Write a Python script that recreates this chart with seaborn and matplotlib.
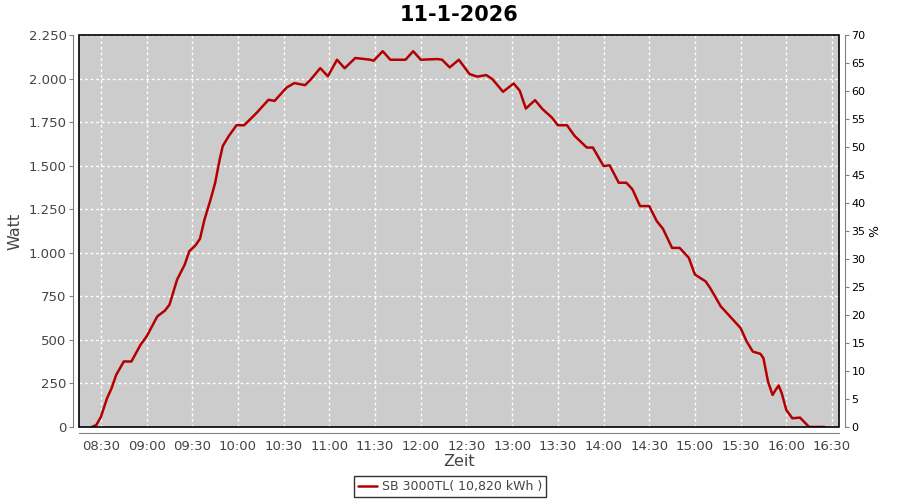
import pandas as pd
import matplotlib
matplotlib.use('Agg')
import matplotlib.pyplot as plt
import matplotlib.dates as mdates
from matplotlib.ticker import FuncFormatter
from matplotlib.patches import Rectangle
import seaborn as sns

# Werte (Uhrzeit, Leistung in Watt)
zeiten = ['08:24', '08:27', '08:30', '08:34', '08:37', '08:40', '08:45', '08:50',
          '08:56', '09:00', '09:07', '09:12', '09:15', '09:20', '09:25', '09:28',
          '09:32', '09:35', '09:38', '09:42', '09:45', '09:48', '09:50', '09:54',
          '09:59', '10:04', '10:12', '10:20', '10:24', '10:32', '10:37', '10:44',
          '10:48', '10:54', '10:59', '11:05', '11:10', '11:17', '11:27', '11:29',
          '11:35', '11:40', '11:50', '11:55', '12:00', '12:11', '12:14', '12:19',
          '12:25', '12:32', '12:37', '12:43', '12:47', '12:54', '13:01', '13:05',
          '13:09', '13:15', '13:20', '13:26', '13:30', '13:36', '13:41', '13:49',
          '13:53', '14:00', '14:04', '14:10', '14:15', '14:19', '14:24', '14:30',
          '14:35', '14:39', '14:45', '14:50', '14:56', '15:00', '15:07', '15:10',
          '15:17', '15:21', '15:30', '15:34', '15:38', '15:43', '15:45', '15:48',
          '15:51', '15:53', '15:55', '15:57', '16:00', '16:04', '16:09', '16:11',
          '16:15', '16:25']
watt = [0, 12, 59, 165, 223, 299, 376, 376,
        472, 520, 635, 668, 702, 846, 932, 1009,
        1042, 1080, 1191, 1306, 1402, 1537, 1613, 1671,
        1732, 1732, 1801, 1878, 1872, 1949, 1974, 1962,
        1997, 2060, 2013, 2108, 2059, 2118, 2108, 2102,
        2157, 2108, 2108, 2157, 2108, 2112, 2108, 2064,
        2108, 2026, 2011, 2020, 1997, 1924, 1972, 1930,
        1828, 1876, 1824, 1777, 1732, 1732, 1671, 1604,
        1604, 1498, 1502, 1402, 1402, 1364, 1268, 1268,
        1181, 1138, 1028, 1028, 971, 875, 836, 798,
        692, 654, 568, 491, 433, 420, 395, 261,
        184, 213, 238, 194, 98, 50, 54, 36,
        0, 0]

datum = '2026-01-11'
titel = '11-1-2026'
legende = 'SB 3000TL( 10,820 kWh )'
y_ticks = [0, 250, 500, 750, 1000, 1250, 1500, 1750, 2000, 2250]
prozent_ticks = list(range(0, 75, 5))

df = pd.DataFrame({'zeit': pd.to_datetime([f'{datum} {z}' for z in zeiten]),
                   'watt': watt})

sns.set_style('white')
plt.rcParams['font.family'] = ['DejaVu Sans']

fig = plt.figure(figsize=(9, 5), dpi=100)
ax = fig.add_axes([0.0878, 0.146, 0.8444, 0.784])
ax.set_facecolor('#cccccc')

sns.lineplot(data=df, x='zeit', y='watt', ax=ax, color='#b40000',
             linewidth=1.8, label=legende)

ax.set_xlim(pd.Timestamp(f'{datum} 08:15:36'), pd.Timestamp(f'{datum} 16:34:36'))
ax.set_ylim(0, 2250)
ax.set_yticks(y_ticks)
ax.yaxis.set_major_formatter(FuncFormatter(lambda v, p: f'{int(v):,}'.replace(',', '.')))
ax.xaxis.set_major_locator(mdates.MinuteLocator(byminute=[0, 30]))
ax.xaxis.set_major_formatter(mdates.DateFormatter('%H:%M'))

ax.grid(True, color='white', linestyle=(0, (2, 2)), linewidth=1)
for s in ['top', 'right']:
    ax.spines[s].set_visible(False)
for s in ['left', 'bottom']:
    ax.spines[s].set_position(('outward', 4))
    ax.spines[s].set_color('#808080')
ax.add_patch(Rectangle((0, 0), 1, 1, transform=ax.transAxes, fill=False,
                       edgecolor='black', linewidth=1.2, zorder=5, clip_on=False))
ax.tick_params(axis='both', colors='#808080', labelcolor='#444444',
               labelsize=9.5, length=3, direction='out', pad=2)

ax.set_xlabel('Zeit', fontsize=11.5, color='#444444', labelpad=1)
ax.set_ylabel('Watt', fontsize=11.5, color='#444444', labelpad=4)
ax.set_title(titel, fontsize=15, fontweight='bold', color='black', pad=10)

ax2 = ax.twinx()
ax2.set_ylim(0, 70)
ax2.set_yticks(prozent_ticks)
for s in ['top', 'left', 'bottom']:
    ax2.spines[s].set_visible(False)
ax2.spines['right'].set_position(('outward', 4))
ax2.spines['right'].set_color('#808080')
ax2.tick_params(axis='y', colors='#808080', labelcolor='black',
                labelsize=8, length=3, direction='out', pad=2)
ax2.set_ylabel('%', fontsize=9, color='black', labelpad=2)

ax.get_legend().remove()
leg = fig.legend(loc='lower center', bbox_to_anchor=(0.5, -0.006), frameon=True,
                 fancybox=False, fontsize=9, handlelength=1.5,
                 borderpad=0.3, handletextpad=0.4)
leg.get_frame().set_edgecolor('black')
leg.get_frame().set_linewidth(1)
for t in leg.get_texts():
    t.set_color('#444444')

fig.savefig('out.png', dpi=100)
